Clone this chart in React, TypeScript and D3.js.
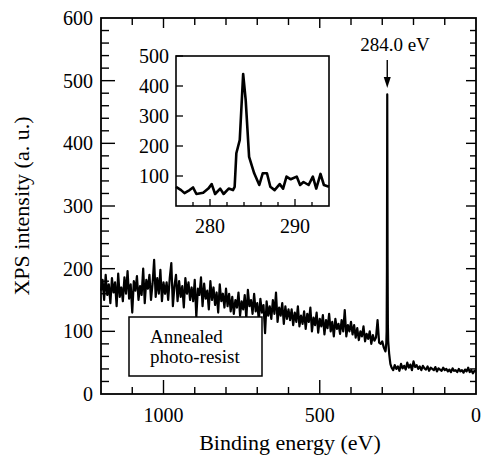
import React from "react";
import * as d3 from "d3";

// survey spectrum, 1200 -> 290 eV in 5 eV steps
const surveyStart = 1200;
const surveyStep = 5;
const surveyCounts = [
  165, 182, 150, 190, 158, 175, 145, 185, 162, 178, 140, 192, 155, 170, 148, 186, 160, 196, 152, 175,
  130, 180, 165, 188, 150, 172, 158, 200, 145, 182, 168, 190, 150, 176, 214, 155, 185, 160, 198, 148,
  178,
  160, 178, 150, 185, 209, 140, 172, 190, 148, 180, 155, 172, 138, 185, 160, 178, 150, 170, 148, 182,
  123, 168, 158, 186, 140, 176, 152, 165, 135, 180, 150, 170, 142, 162, 130, 175, 148, 160, 138, 168,
  140, 160, 132, 155, 128, 150, 138, 162, 125, 148, 135, 158, 120, 166, 140, 150, 128, 160, 132, 145,
  118, 152, 130, 142, 97, 148, 125, 140, 120, 150, 128, 162, 115, 138, 125, 145, 112, 140, 120, 135,
  118, 135, 110, 130, 115, 140, 108, 125, 112, 132, 104, 128, 115, 138, 100, 122, 110, 130, 98, 120,
  108, 126, 95, 118, 105, 128, 100, 115, 92, 120, 104, 112, 96, 118, 100, 134, 92, 110, 100, 115,
  95, 110, 90, 105, 86, 100, 92, 108, 84, 96, 88, 100, 80, 94, 85, 90, 118, 82, 80, 84, 74, 68,
];

// C 1s peak region of the survey
const peakEnergy = [289, 288, 287, 286, 285, 284, 283, 282, 281, 280, 278, 276, 274, 272];
const peakCounts = [70, 76, 82, 100, 200, 478, 220, 110, 85, 78, 65, 56, 48, 45];

// tail, 270 -> 0 eV in 5 eV steps
const tailStart = 270;
const tailCounts = [
  42, 38, 46, 40, 44, 37, 48, 41, 45, 39, 50, 42, 47, 38, 52, 43, 46, 40, 44, 38,
  45, 41, 39, 44, 37, 42, 40, 38, 43, 36, 41, 39, 37, 42, 38, 40, 36, 39, 35, 41,
  37, 38, 35, 40, 36, 38, 34, 39, 36, 42, 35, 38, 33, 37, 36,
];

// inset: high resolution C 1s
const insetEnergy = [
  276.0, 276.6, 277.0, 277.6, 278.0, 278.4, 279.2, 279.8, 280.2, 280.6, 281.2, 281.6, 282.2, 282.7,
  282.9, 283.1, 283.5, 283.9, 284.2, 284.6, 285.2, 285.8, 286.2, 286.7, 287.1, 287.6, 288.2, 288.6,
  289.0, 289.5, 290.2, 290.6, 291.0, 291.6, 292.1, 292.5, 293.0, 293.4, 294.0,
];
const insetCounts = [
  64, 53, 43, 53, 62, 40, 44, 58, 73, 40, 58, 40, 58, 53,
  64, 176, 220, 440, 353, 164, 109, 70, 109, 109, 64, 53, 73, 58,
  98, 89, 98, 70, 80, 70, 98, 58, 107, 70, 64,
];

const mainYTicks = [0, 100, 200, 300, 400, 500, 600];
const mainXTicks = [1000, 500, 0];
const insetYTicks = [100, 200, 300, 400, 500];
const insetXTicks = [280, 290];

const serif = { fontFamily: '"Times New Roman", "Liberation Serif", Times' };
const T = (props: any) => <text fill="#000" style={serif} {...props} />;

export default function App() {
  const W = 484;
  const H = 455;
  const m = { left: 101, right: 476, top: 18, bottom: 394 };
  const x = d3.scaleLinear().domain([1200, 0]).range([m.left, m.right]);
  const y = d3.scaleLinear().domain([0, 600]).range([m.bottom, m.top]);

  const pts: [number, number][] = [
    ...surveyCounts.map((c, i) => [surveyStart - i * surveyStep, c] as [number, number]),
    ...peakEnergy.map((e, i) => [e, peakCounts[i]] as [number, number]),
    ...tailCounts.map((c, i) => [tailStart - i * surveyStep, c] as [number, number]),
  ];
  const line = d3
    .line<[number, number]>()
    .x((d) => x(d[0]))
    .y((d) => y(d[1]));

  const ins = { left: 176, right: 329, top: 56, bottom: 206 };
  const ix = d3.scaleLinear().domain([276, 294]).range([ins.left, ins.right]);
  const iy = d3.scaleLinear().domain([0, 500]).range([ins.bottom, ins.top]);
  const insetLine = d3
    .line<number>()
    .x((d, i) => ix(insetEnergy[i]))
    .y((d) => iy(d));

  const xMinor = d3.range(100, 1200, 100);
  const yMinor = d3.range(20, 600, 20);
  const insetXMinor = d3.range(278, 294, 2);

  const px = x(284);

  return (
    <svg
      width={W}
      height={H}
      style={{ position: "absolute", left: 0, top: 0, background: "#fff", ...serif }}
    >
      <rect x={0} y={0} width={W} height={H} fill="#fff" />
      {/* main ticks */}
      <g stroke="#000" strokeWidth={1.4}>
        {yMinor.map((v) => {
          const major = v % 100 === 0;
          return (
            <g key={"y" + v}>
              <line x1={m.left} x2={m.left + (major ? 14 : 8)} y1={y(v)} y2={y(v)} />
              <line x1={m.right} x2={m.right - (major ? 10 : 6)} y1={y(v)} y2={y(v)} />
            </g>
          );
        })}
        {xMinor.map((v) => {
          const major = v % 500 === 0;
          return (
            <g key={"x" + v}>
              <line x1={x(v)} x2={x(v)} y1={m.bottom} y2={m.bottom - (major ? 14 : 7)} />
              <line x1={x(v)} x2={x(v)} y1={m.top} y2={m.top + (major ? 10 : 7)} />
            </g>
          );
        })}
      </g>
      <path d={line(pts) || ""} fill="none" stroke="#000" strokeWidth={2.2} strokeLinejoin="round" />
      <rect
        x={m.left}
        y={m.top}
        width={m.right - m.left}
        height={m.bottom - m.top}
        fill="none"
        stroke="#000"
        strokeWidth={1.8}
      />
      {mainYTicks.map((v) => (
        <T key={"yl" + v} x={93} y={y(v) + 7} textAnchor="end" fontSize={20}>
          {v}
        </T>
      ))}
      {mainXTicks.map((v) => (
        <T key={"xl" + v} x={x(v)} y={422} textAnchor="middle" fontSize={20}>
          {v}
        </T>
      ))}
      <T x={290} y={450} textAnchor="middle" fontSize={22}>
        Binding energy (eV)
      </T>
      <T transform="translate(29, 206) rotate(-90)" textAnchor="middle" fontSize={22}>
        XPS intensity (a. u.)
      </T>

      {/* peak annotation */}
      <T x={395} y={51} textAnchor="middle" fontSize={19}>
        284.0 eV
      </T>
      <line x1={px} x2={px} y1={60} y2={80} stroke="#000" strokeWidth={1.4} />
      <path d={`M${px - 3.5},${77} L${px + 3.5},${77} L${px},${88} Z`} fill="#000" />

      {/* legend box */}
      <rect x={129} y={317} width={133} height={59} fill="#fff" stroke="#000" strokeWidth={1.5} />
      <T x={150} y={343} fontSize={19}>
        Annealed
      </T>
      <T x={150} y={363} fontSize={19}>
        photo-resist
      </T>

      {/* inset */}
      <rect
        x={ins.left}
        y={ins.top}
        width={ins.right - ins.left}
        height={ins.bottom - ins.top}
        fill="#fff"
        stroke="none"
      />
      <g stroke="#000" strokeWidth={1.3}>
        {insetYTicks.map((v) => (
          <line key={"iy" + v} x1={ins.left} x2={ins.left + 7} y1={iy(v)} y2={iy(v)} />
        ))}
        {insetXMinor.map((v) => (
          <line
            key={"ix" + v}
            x1={ix(v)}
            x2={ix(v)}
            y1={ins.bottom}
            y2={ins.bottom - (v % 10 === 0 ? 7 : 4)}
          />
        ))}
      </g>
      <path
        d={insetLine(insetCounts) || ""}
        fill="none"
        stroke="#000"
        strokeWidth={2.6}
        strokeLinejoin="round"
      />
      <rect
        x={ins.left}
        y={ins.top}
        width={ins.right - ins.left}
        height={ins.bottom - ins.top}
        fill="none"
        stroke="#000"
        strokeWidth={1.6}
      />
      {insetYTicks.map((v) => (
        <T key={"iyl" + v} x={169} y={iy(v) + 7} textAnchor="end" fontSize={20}>
          {v}
        </T>
      ))}
      {insetXTicks.map((v) => (
        <T key={"ixl" + v} x={ix(v)} y={233} textAnchor="middle" fontSize={20}>
          {v}
        </T>
      ))}
    </svg>
  );
}
